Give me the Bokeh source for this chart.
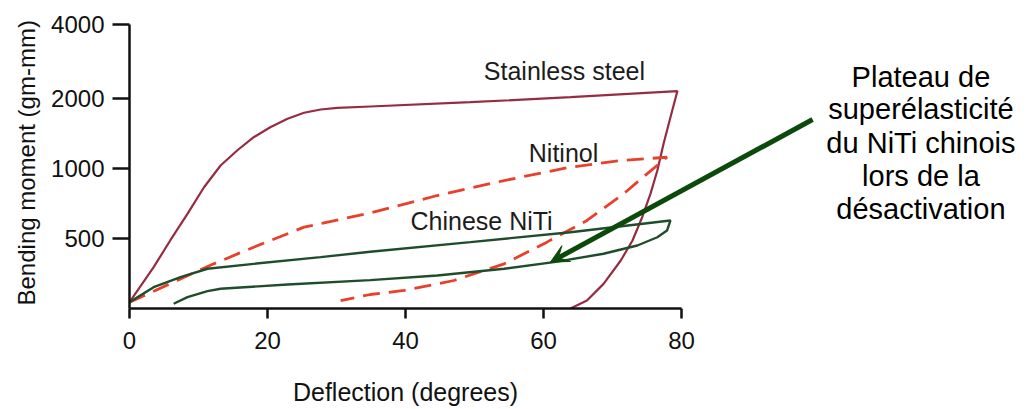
import numpy as np
from bokeh.plotting import figure
from bokeh.layouts import column
from bokeh.models import Range1d, FixedTicker, Label, Arrow, VeeHead, Title
from bokeh.embed import file_html
from bokeh.resources import INLINE

# ---- axis definitions (bending moment axis is non-linear: ticks equally spaced) ----
moment_ticks = [0, 500, 1000, 2000, 4000]
moment_tick_labels = ["0", "500", "1000", "2000", "4000"]
tick_slots = [0, 1, 2, 3, 4.057]          # position of each moment tick on the drawn axis
deflection_ticks = [0, 20, 40, 60, 80]
x_title = "Deflection (degrees)"
y_title = "Bending moment (gm-mm)"

# ---- series (deflection in degrees, bending moment in gm-mm) ----
steel_deflection = [0, 3.5, 5.9, 8.4, 10.8, 13.2, 15.6, 18.0, 20.4, 22.9, 25.3, 27.7,
                    30.1, 34.9, 49.4, 63.9, 79.4, 78.4, 77.4, 76.5, 75.5, 74.3, 72.9,
                    71.2, 68.7, 66.3, 63.9]
steel_moment = [45, 295, 486, 676, 866, 1043, 1257, 1447, 1590, 1710, 1796, 1843,
                1867, 1886, 1947, 2035, 2197, 1733, 1353, 986, 819, 652, 486,
                343, 176, 57, 0]

nitinol_deflection = [0, 6.9, 12.2, 18.0, 25.3, 34.9, 44.6, 54.3, 63.9, 71.2, 77.9,
                      75.0, 71.6, 66.3, 60.5, 54.3, 47.0, 39.8, 34.9, 30.6]
nitinol_moment = [45, 200, 319, 438, 581, 682, 807, 914, 1019, 1114, 1161,
                  962, 819, 629, 474, 319, 200, 129, 100, 57]

niti_deflection = [0, 3.5, 7.4, 11.3, 18.0, 27.7, 34.9, 49.4, 63.9, 78.4, 77.9, 76.5,
                   73.6, 68.7, 61.5, 54.3, 44.6, 34.9, 22.9, 13.2, 11.3, 8.4, 6.4]
niti_moment = [45, 152, 224, 284, 319, 367, 405, 474, 545, 629, 557, 509,
               450, 391, 331, 284, 236, 203, 171, 141, 124, 81, 34]

# annotation arrow (points at the unloading plateau of Chinese NiTi)
arrow_from = (99.0, 1700)
arrow_to = (61.0, 331)

series_labels = ["Stainless steel", "Nitinol", "Chinese NiTi"]
note_lines = ["Plateau de", "superélasticité", "du NiTi chinois", "lors de la", "désactivation"]


def slot(m):
    return np.interp(m, moment_ticks, tick_slots)


FONT = "Liberation Sans"
STEEL = "#962c42"
NITINOL = "#e8402a"
NITI = "#1f4d2b"
ARROW = "#0c4a0c"
INK = "#111111"
X_END = 130.58   # shared deflection scale: 6.9 px per degree from the y axis to the right edge

# ---------------- main chart ----------------
p = figure(width=1030, height=372, output_backend="svg", toolbar_location=None,
           x_range=Range1d(0, X_END), y_range=Range1d(0, 4.4),
           min_border_left=129, min_border_right=0, min_border_top=0, min_border_bottom=64)
p.outline_line_color = None
p.xgrid.visible = False
p.ygrid.visible = False
p.background_fill_color = "white"

p.line(steel_deflection, slot(steel_moment), line_color=STEEL, line_width=2.2)
p.line(nitinol_deflection, slot(nitinol_moment), line_color=NITINOL, line_width=2.8,
       line_dash="17 9")
p.line(niti_deflection, slot(niti_moment), line_color=NITI, line_width=2.4)

arr = Arrow(end=VeeHead(size=18, fill_color=ARROW, line_color=ARROW, line_width=1),
            x_start=arrow_from[0], y_start=float(slot(arrow_from[1])),
            x_end=arrow_to[0], y_end=float(slot(arrow_to[1])),
            line_color=ARROW, line_width=5)
p.add_layout(arr)

for txt, x, y in zip(series_labels, [51.35, 57.87, 40.72], [3.386, 2.219, 1.243]):
    p.add_layout(Label(x=x, y=y, text=txt, text_font=FONT, text_font_size="25px",
                       text_color="#1c1c1c", text_baseline="middle", text_align="left"))

for txt, y in zip(note_lines, [3.31, 2.844, 2.359, 1.891, 1.416]):
    p.add_layout(Label(x=114.7, y=y, text=txt, text_font=FONT, text_font_size="29px",
                       text_color="#000000", text_baseline="middle", text_align="center"))

xa = p.xaxis[0]
xa.ticker = FixedTicker(ticks=deflection_ticks)
xa.bounds = (0, 80)
ya = p.yaxis[0]
ya.ticker = FixedTicker(ticks=tick_slots[1:])
ya.major_label_overrides = {tick_slots[i]: moment_tick_labels[i] for i in range(1, 5)}
ya.bounds = (0, tick_slots[-1])

for ax in (xa, ya):
    ax.axis_line_width = 2.5
    ax.axis_line_color = INK
    ax.major_tick_line_width = 2.5
    ax.major_tick_line_color = INK
    ax.major_tick_in = 0
    ax.minor_tick_line_color = None
    ax.major_label_text_font = FONT
    ax.major_label_text_font_size = "24px"
    ax.major_label_text_color = INK

xa.major_tick_out = 10
xa.major_label_standoff = 13
ya.major_tick_out = 17
ya.major_label_standoff = 8

p.add_layout(Title(text=y_title, align="left", offset=3, standoff=18,
                   text_font=FONT, text_font_size="24px", text_font_style="normal",
                   text_color=INK), "left")

# ---------------- strip below: x-axis title centred under the 0-80 axis ----------------
r = figure(width=1030, height=37, output_backend="svg", toolbar_location=None,
           x_range=Range1d(0, X_END), y_range=Range1d(0, 1),
           x_axis_type=None, y_axis_type=None,
           min_border_left=129, min_border_right=0, min_border_top=0, min_border_bottom=0)
r.outline_line_color = None
r.xgrid.visible = False
r.ygrid.visible = False
r.background_fill_color = "white"
r.add_layout(Label(x=40, y=0.46, text=x_title, text_font=FONT, text_font_size="25px",
                   text_color=INK, text_baseline="middle", text_align="center"))

layout = column(p, r, spacing=0)
open("out.html", "w").write(file_html(layout, INLINE))
